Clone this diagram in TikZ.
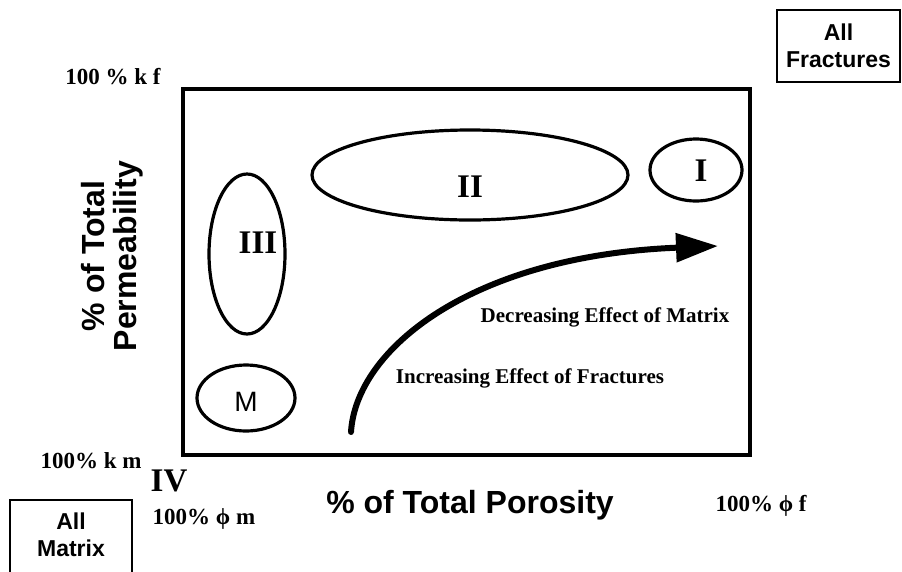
\documentclass[tikz,border=0pt]{standalone}
\usepackage{fontspec}
\setmainfont{Liberation Serif}
\setsansfont{Liberation Sans}
\usetikzlibrary{arrows.meta}
\begin{document}
\begin{tikzpicture}[x=1pt,y=-1pt,
  serif/.style={font=\fontsize{21}{23}\selectfont\bfseries},
  axisnum/.style={font=\fontsize{23}{25}\selectfont\bfseries},
  roman/.style={font=\bfseries\fontsize{33}{35}\selectfont},
  label/.style={font=\sffamily\bfseries\fontsize{32}{36}\selectfont},
  region/.style={line width=3.2pt},
  boxlab/.style={draw,line width=1.8pt,font=\sffamily\bfseries\fontsize{23}{27}\selectfont,align=center}]
\useasboundingbox (0,0) rectangle (902,571);
\draw[line width=4.5pt] (183,89) rectangle (750,455);
\node[boxlab,minimum width=123pt,minimum height=72pt] (allf) at (838.5,46) {All\\Fractures};
\node[draw,line width=1.8pt,minimum width=122pt,minimum height=80pt] (allm) at (71,540) {};
\node[font=\sffamily\bfseries\fontsize{23}{27}\selectfont,align=center] (allmt) at (71,535) {All\\Matrix};
\draw[region] (247,254) ellipse [x radius=38, y radius=80];
\draw[region] (470,175) ellipse [x radius=158, y radius=45];
\draw[region] (696,170) ellipse [x radius=46, y radius=31];
\draw[region] (246,398) ellipse [x radius=49, y radius=33];
\node[roman] (r3) at (258,243) {III};
\node[roman] (r2) at (470,187) {II};
\node[roman] (r1) at (701,171) {I};
\node[font=\sffamily\fontsize{28}{30}\selectfont] (rm) at (246,402) {M};
\coordinate (as) at (351,432);
\coordinate (ae) at (718,246);
\draw[line width=6pt,line cap=round,-{Triangle[length=42pt,width=28pt]}] (as) .. controls (356,350) and (470,256) .. (ae);
\node[serif] (dec) at (605,317) {Decreasing Effect of Matrix};
\node[serif] (inc) at (530,378) {Increasing Effect of Fractures};
\node[axisnum] (kf) at (113,77) {100 \% k f};
\node[axisnum] (km) at (91,461) {100\% k m};
\node[roman] (iv) at (169,481) {IV};
\node[axisnum] (pm) at (204,519) {100\% ϕ m};
\node[axisnum] (pf) at (761,506) {100\% ϕ f};
\node[label] (por) at (470,505) {\% of Total Porosity};
\node[rotate=90,align=center,font=\sffamily\bfseries\fontsize{32}{32}\selectfont] (perm) at (112,256) {\% of Total\\Permeability};
\end{tikzpicture}
\end{document}
